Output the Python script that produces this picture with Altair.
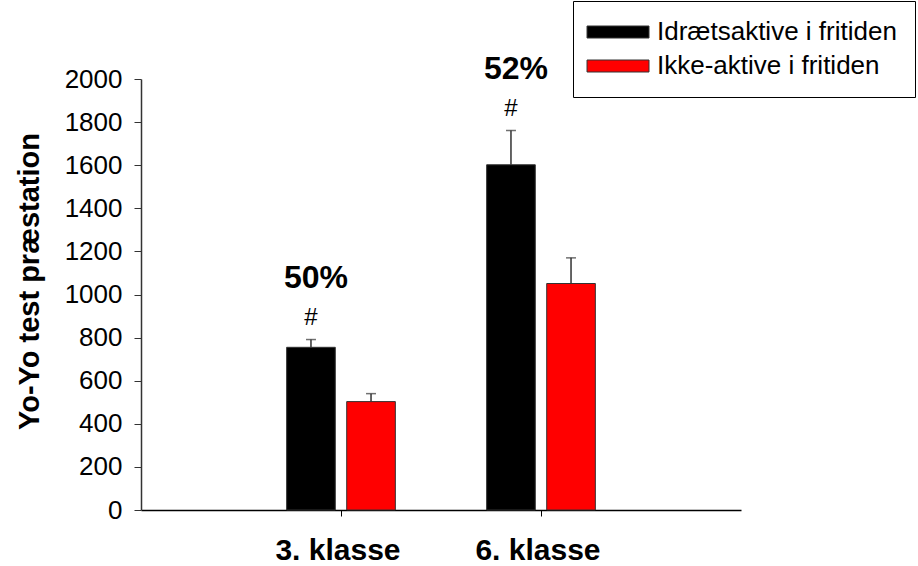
import altair as alt
import pandas as pd

# Yo-Yo test performance by school year and leisure-time sports activity
klasser = ["3. klasse", "3. klasse", "6. klasse", "6. klasse"]
grupper = ["Idrætsaktive i fritiden", "Ikke-aktive i fritiden",
           "Idrætsaktive i fritiden", "Ikke-aktive i fritiden"]
middel = [755, 503, 1602, 1051]
fejl = [36, 37, 159, 119]
signifikans = ["#", "", "#", ""]
forskel = ["50%", "", "52%", ""]

klasse_orden = ["3. klasse", "6. klasse"]
gruppe_orden = ["Idrætsaktive i fritiden", "Ikke-aktive i fritiden"]
farver = ["#000000", "#ff0000"]
y_ticks = [0, 200, 400, 600, 800, 1000, 1200, 1400, 1600, 1800, 2000]

df = pd.DataFrame({
    "klasse": klasser,
    "gruppe": grupper,
    "middel": middel,
    "fejl": fejl,
    "sig": signifikans,
    "pct": forskel,
})
df["top"] = df["middel"] + df["fejl"]

FONT = "Liberation Sans"
EDGE = "#333333"

x_enc = alt.X(
    "klasse:N",
    sort=klasse_orden,
    scale=alt.Scale(paddingInner=0, paddingOuter=0.5),
    axis=alt.Axis(
        title=None, labelAngle=0, labelFont=FONT, labelFontSize=30,
        labelFontWeight="bold", labelColor="#000000", labelPadding=19,
        labelOffset=-3,
        tickSize=6, tickColor="#000000", domainColor="#000000",
        domainWidth=1.5, grid=False,
    ),
)
xo_enc = alt.XOffset(
    "gruppe:N", sort=gruppe_orden,
    scale=alt.Scale(paddingInner=0.19, paddingOuter=0.76),
)
y_axis = alt.Axis(
    title="Yo-Yo test præstation", values=y_ticks, format="d", grid=False,
    labelFont=FONT, labelFontSize=26, labelColor="#000000", labelPadding=12,
    tickSize=7, tickColor=EDGE, domainColor=EDGE, domainWidth=1.5,
    titleFont=FONT, titleFontSize=29, titleFontWeight="bold",
    titleColor="#000000", titleBaseline="middle", titleX=-112, titleY=202,
)
y_scale = alt.Scale(domain=[0, 2000], nice=False)

base = alt.Chart(df)

bars = base.mark_bar(stroke=EDGE, strokeWidth=1).encode(
    x=x_enc,
    xOffset=xo_enc,
    y=alt.Y("middel:Q", scale=y_scale, axis=y_axis),
    color=alt.Color(
        "gruppe:N", sort=gruppe_orden,
        scale=alt.Scale(domain=gruppe_orden, range=farver),
        legend=alt.Legend(title=None),
    ),
)

err_line = base.mark_rule(color=EDGE, strokeWidth=1.5).encode(
    x=x_enc, xOffset=xo_enc,
    y=alt.Y("middel:Q", scale=y_scale, axis=y_axis),
    y2="top:Q",
)

err_cap = base.mark_tick(color=EDGE, orient="horizontal", size=10, thickness=1.5).encode(
    x=x_enc, xOffset=xo_enc,
    y=alt.Y("top:Q", scale=y_scale, axis=y_axis),
)

sig_text = base.mark_text(
    font=FONT, fontSize=24, color="#000000", baseline="middle", dy=-22
).encode(
    x=x_enc, xOffset=xo_enc,
    y=alt.Y("top:Q", scale=y_scale, axis=y_axis),
    text="sig:N",
)

pct_text = base.mark_text(
    font=FONT, fontSize=32, fontWeight="bold", color="#000000",
    baseline="middle", dy=-62, dx=5,
).encode(
    x=x_enc, xOffset=xo_enc,
    y=alt.Y("top:Q", scale=y_scale, axis=y_axis),
    text="pct:N",
)

chart = (
    alt.layer(bars, err_line, err_cap, sig_text, pct_text)
    .properties(
        width=600, height=431,
        padding={"left": 141, "top": 79, "right": 177, "bottom": 56},
        autosize=alt.AutoSizeParams(type="none"),
        background="#ffffff",
    )
    .configure_view(stroke=None)
    .configure_legend(
        orient="none", legendX=432, legendY=-78, direction="vertical",
        # wide flat swatch, drawn from the left edge of the symbol slot
        symbolType="M-2.83,-1H7.5V1H-2.83Z", symbolSize=144,
        symbolStrokeColor=EDGE, symbolStrokeWidth=1, symbolOpacity=1,
        labelFont=FONT, labelFontSize=26, labelColor="#000000",
        labelOffset=40, rowPadding=8, padding=18,
        strokeColor="#000000", fillColor="#ffffff", cornerRadius=0,
        labelLimit=400,
    )
)

chart.save("out.html", embed_options={"renderer": "svg", "actions": False})
